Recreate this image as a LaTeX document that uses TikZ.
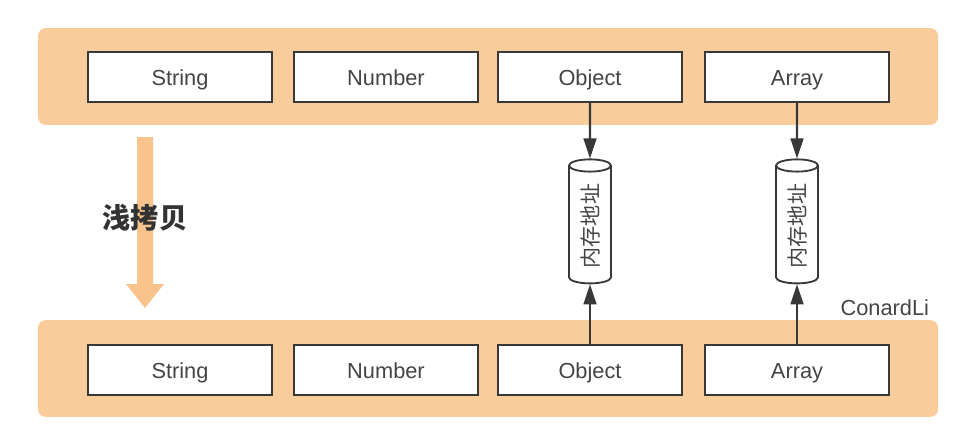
\documentclass[tikz,border=0pt]{standalone}
\usepackage{fontspec}
\setmainfont{Liberation Sans}
\newfontfamily\cjk{Noto Sans CJK SC}
\usepackage{tikz}
\usetikzlibrary{positioning, arrows.meta, shapes.geometric, calc}
\definecolor{bandorange}{HTML}{F8CD9B}
\definecolor{arroworange}{HTML}{F8C48C}
\definecolor{boxline}{HTML}{383838}
\definecolor{labelgray}{HTML}{444444}

\begin{document}
\begin{tikzpicture}[x=0.025cm, y=-0.025cm, >={Triangle[length=0.5cm, width=0.32cm]},
  band/.style={rectangle, fill=bandorange, rounded corners=0.2cm, minimum width=22.5cm, minimum height=2.42cm},
  typebox/.style={rectangle, draw=boxline, line width=1.5pt, fill=white, minimum width=4.6cm, minimum height=1.25cm, text height=0.45cm, text depth=0.05cm, font=\fontsize{15.5}{18}\selectfont, text=labelgray},
  addr/.style={cylinder, draw=boxline, line width=1.3pt, fill=white, rotate=90, aspect=0.55, inner sep=1pt, minimum width=1.05cm, minimum height=3.1cm, font=\cjk\fontsize{15}{18}\selectfont, text=labelgray},
  link/.style={->, draw=boxline, line width=1.5pt}]
  \useasboundingbox (0,0) rectangle (965,441);
  % the two rows
  \node[band] (TopRow) at (488, 76.5) {};
  \node[band] (BotRow) at (488, 368.5) {};
  \node[typebox] (TString) at (180, 77)  {String};
  \node[typebox] (TNumber) at (386, 77)  {Number};
  \node[typebox] (TObject) at (590, 77)  {Object};
  \node[typebox] (TArray)  at (797, 77)  {Array};
  \node[typebox] (BString) at (180, 370) {String};
  \node[typebox] (BNumber) at (386, 370) {Number};
  \node[typebox] (BObject) at (590, 370) {Object};
  \node[typebox] (BArray)  at (797, 370) {Array};
  % shared addresses
  \node[addr] (AObject) at (590, 226) {内存地址};
  \node[addr] (AArray)  at (797, 226) {内存地址};
  \foreach \t in {Object, Array}{
    \draw[link] (T\t) -- (A\t);
    \draw[link] (B\t) -- (A\t);
  }
  % copy arrow
  \fill[arroworange] (137,137) -- (153,137) -- (153,284) -- (164,284) -- (145,308) -- (126,284) -- (137,284) -- cycle;
  \node[font=\cjk\bfseries\fontsize{20}{24}\selectfont, text=black!80] (Copy) at (145, 218) {浅拷贝};
  \node[anchor=east, font=\fontsize{15.5}{18}\selectfont, text=labelgray] (Author) at (934, 308) {ConardLi};
\end{tikzpicture}
\end{document}
